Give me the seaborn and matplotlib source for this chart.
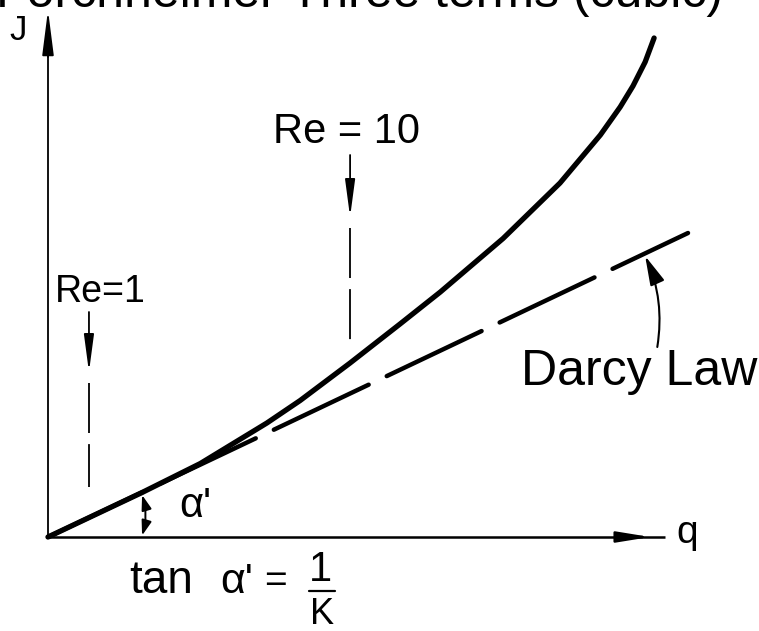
import matplotlib
matplotlib.use("Agg")
import matplotlib.pyplot as plt
import pandas as pd
import seaborn as sns

# Forchheimer law: hydraulic gradient J against specific discharge q
q_curve = [0.0, 1.47, 2.38, 3.42, 3.94, 4.72, 5.50, 6.13, 7.11, 8.00, 8.63, 8.94, 9.14, 9.33, 9.47]
J_curve = [0.0, 0.89, 1.47, 2.28, 2.73, 3.48, 4.26, 4.90, 5.97, 7.08, 8.04, 8.60, 9.02, 9.50, 9.98]

# Darcy law: straight line through the origin, slope tan(alpha') = 1/K
q_darcy = [0.0, 10.0]
J_darcy = [0.0, 6.08]

# Reynolds-number markers on the q axis
re_labels = ["Re=1", "Re = 10"]
re_q = [0.64, 4.72]

title_text = "Forchheimer Three terms (cubic)"

sns.set_theme(style="white")
plt.rcParams["font.family"] = ["Liberation Sans", "DejaVu Sans"]
plt.rcParams["lines.scale_dashes"] = False

fig = plt.figure(figsize=(7.59, 6.31), dpi=100)
ax = fig.add_axes([0, 0, 1, 1])
ax.set_xlim(-0.75, 11.109)
ax.set_ylim(-1.88, 10.74)
ax.set_axis_off()

ink = "black"

# --- coordinate axes with arrowheads ---
ax.plot([0, 9.64], [0, 0], color=ink, lw=1.8, solid_capstyle="butt")
ax.annotate("", xy=(9.41, 0), xytext=(9.0, 0),
            arrowprops=dict(arrowstyle="-|>,head_length=0.8,head_width=0.13",
                            mutation_scale=25, lw=1.8, color=ink,
                            shrinkA=0, shrinkB=0))
ax.plot([0, 0], [0, 10.3], color=ink, lw=1.3, solid_capstyle="butt")
ax.annotate("", xy=(0, 10.54), xytext=(0, 9.6),
            arrowprops=dict(arrowstyle="-|>,head_length=1.1,head_width=0.14",
                            mutation_scale=25, lw=1.3, color=ink,
                            shrinkA=0, shrinkB=0))
ax.text(-0.47, 9.94, "J", fontsize=25, ha="center", va="baseline", color=ink)
ax.text(9.99, -0.12, "q", fontsize=28, ha="center", va="baseline", color=ink)

# --- Darcy line (long dashes) and Forchheimer curve ---
darcy = pd.DataFrame({"q": q_darcy, "J": J_darcy})
sns.lineplot(data=darcy, x="q", y="J", ax=ax, color=ink, lw=3.2,
             estimator=None, sort=False)
darcy_line = ax.get_lines()[-1]
darcy_line.set_linestyle((0, (75.6, 14.4)))
darcy_line.set_dash_capstyle("round")

forch = pd.DataFrame({"q": q_curve, "J": J_curve})
sns.lineplot(data=forch, x="q", y="J", ax=ax, color=ink, lw=3.8,
             estimator=None, sort=False)
curve_line = ax.get_lines()[-1]
curve_line.set_solid_capstyle("round")
curve_line.set_solid_joinstyle("round")

# --- Reynolds-number markers: label, arrow, dashed drop line ---
re_top = [4.50, 7.64]
re_tip = [3.30, 6.40]
re_bottom = [1.00, 3.84]
re_label_x = [0.81, 4.66]
re_label_y = [4.70, 7.88]
re_label_size = [27, 30]
for lab, q, top, tip, bot, lx, ly, fs in zip(re_labels, re_q, re_top, re_tip,
                                             re_bottom, re_label_x, re_label_y,
                                             re_label_size):
    ax.annotate("", xy=(q, tip), xytext=(q, top),
                arrowprops=dict(arrowstyle="-|>,head_length=0.9,head_width=0.12",
                                mutation_scale=25, lw=1.3, color=ink,
                                shrinkA=0, shrinkB=0))
    ax.plot([q, q], [tip - 0.22, bot], color=ink, lw=1.3,
            linestyle=(0, (36, 8)))
    ax.text(lx, ly, lab, fontsize=fs, ha="center", va="baseline", color=ink)

# --- Darcy Law callout ---
ax.annotate("", xy=(9.33, 5.62), xytext=(9.52, 3.80),
            arrowprops=dict(arrowstyle="-|>,head_length=0.9,head_width=0.23",
                            mutation_scale=20, lw=1.5, color=ink,
                            connectionstyle="arc3,rad=0.15",
                            shrinkA=0, shrinkB=0))
ax.text(9.24, 3.04, "Darcy Law", fontsize=36, ha="center", va="baseline",
        color=ink)

# --- angle alpha' between Darcy line and q axis ---
ax.annotate("", xy=(1.47, 0.03), xytext=(1.47, 0.84),
            arrowprops=dict(arrowstyle="<|-|>,head_length=0.45,head_width=0.15",
                            mutation_scale=20, lw=1.4, color=ink,
                            connectionstyle="arc3,rad=-0.15",
                            shrinkA=0, shrinkB=0))
ax.text(2.30, 0.40, "α'", fontsize=30, ha="center", va="baseline", color=ink)

# --- tan alpha' = 1/K ---
ax.text(1.77, -1.12, "tan", fontsize=33, ha="center", va="baseline", color=ink)
ax.text(2.95, -1.12, "α'", fontsize=31, ha="center", va="baseline", color=ink)
ax.text(3.55, -1.10, "=", fontsize=28, ha="center", va="baseline", color=ink)
ax.text(4.25, -0.88, "1", fontsize=30, ha="center", va="baseline", color=ink)
ax.plot([4.08, 4.48], [-1.08, -1.08], color=ink, lw=1.6)
ax.text(4.28, -1.74, "K", fontsize=26, ha="center", va="baseline", color=ink)

# title running off the top edge
fig.text(-4 / 759, 1 - 7 / 631, title_text, fontsize=36, ha="left",
         va="baseline", color=ink)

fig.savefig("out.png", dpi=100, facecolor="white")
